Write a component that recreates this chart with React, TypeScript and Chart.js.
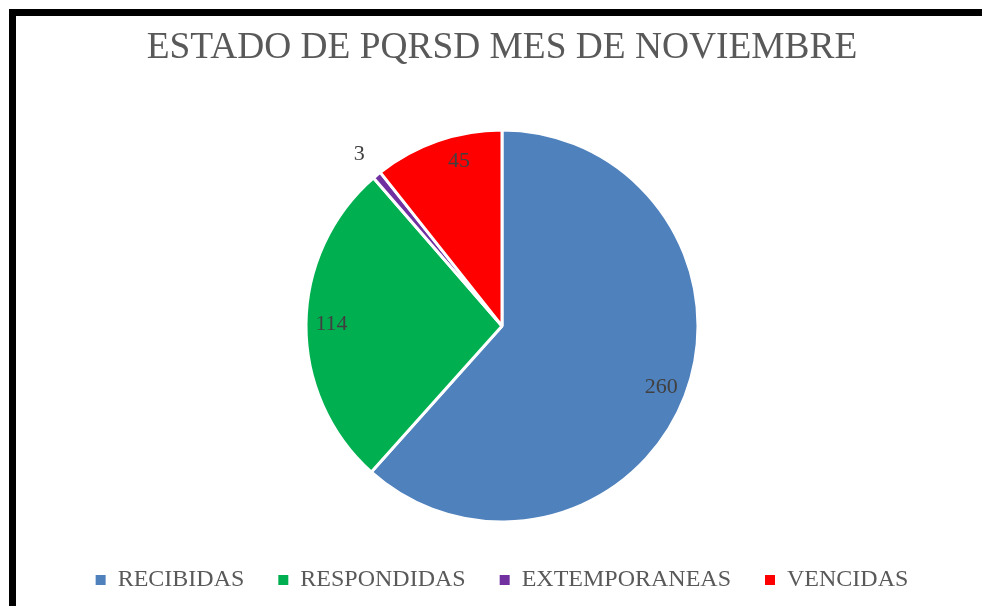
import React, { useEffect, useRef } from "react";
import { Chart, registerables } from "chart.js";

Chart.register(...registerables);

const TITLE = "ESTADO DE PQRSD MES DE NOVIEMBRE";
const CATEGORIES = ["RECIBIDAS", "RESPONDIDAS", "EXTEMPORANEAS", "VENCIDAS"];
const VALUES = [260, 114, 3, 45];
const COLORS = ["#4F81BD", "#00B050", "#7030A0", "#FF0000"];
const LABEL_RADIUS = [0.87, 0.87, 1.14, 0.87];
const LABEL_ANGLE_FRACTION = [0.5, 0.5, 0.5, 0.62];

const FONT = "'Liberation Serif', 'Times New Roman', serif";

const labelPlugin = {
  id: "sliceLabels",
  afterDatasetsDraw(chart: any) {
    const ctx = chart.ctx;
    const meta = chart.getDatasetMeta(0);
    ctx.save();
    ctx.font = `22px ${FONT}`;
    ctx.fillStyle = "#404040";
    ctx.textAlign = "center";
    ctx.textBaseline = "middle";
    meta.data.forEach((arc: any, i: number) => {
      const { x, y, startAngle, endAngle, outerRadius } = arc.getProps(
        ["x", "y", "startAngle", "endAngle", "outerRadius"],
        true
      );
      const a = startAngle + (endAngle - startAngle) * LABEL_ANGLE_FRACTION[i];
      const r = outerRadius * LABEL_RADIUS[i];
      ctx.fillText(String(VALUES[i]), x + Math.cos(a) * r, y + Math.sin(a) * r);
    });
    ctx.restore();
  },
};

export default function App() {
  const ref = useRef<HTMLCanvasElement>(null);
  useEffect(() => {
    if (!ref.current) return;
    const chart = new Chart(ref.current, {
      type: "pie",
      data: {
        labels: CATEGORIES,
        datasets: [
          {
            data: VALUES,
            backgroundColor: COLORS,
            borderColor: "#FFFFFF",
            borderWidth: 3,
            radius: 196,
          },
        ],
      },
      options: {
        animation: false,
        responsive: false,
        maintainAspectRatio: false,
        layout: { padding: { left: 6, right: 0, top: 0, bottom: 4 } },
        plugins: {
          title: {
            display: true,
            text: TITLE,
            color: "#595959",
            font: { family: FONT, size: 37.4, weight: "normal" },
            padding: { top: 10, bottom: 47 },
          },
          legend: {
            position: "bottom",
            labels: {
              color: "#595959",
              font: { family: FONT, size: 24 },
              boxWidth: 10,
              boxHeight: 10,
              padding: 34,
              generateLabels: () =>
                CATEGORIES.map((c, i) => ({
                  text: c,
                  fillStyle: COLORS[i],
                  strokeStyle: COLORS[i],
                  lineWidth: 0,
                  fontColor: "#595959",
                  hidden: false,
                  index: i,
                })),
            },
          },
          tooltip: { enabled: false },
        },
      },
      plugins: [labelPlugin],
    });
    return () => chart.destroy();
  }, []);
  return (
    <div
      style={{
        position: "absolute",
        left: 9,
        top: 9,
        width: 973,
        height: 597,
        boxSizing: "border-box",
        borderLeft: "7px solid #000",
        borderTop: "7px solid #000",
        background: "#fff",
        overflow: "hidden",
      }}
    >
      <canvas ref={ref} width={966} height={590} style={{ display: "block" }} />
    </div>
  );
}
